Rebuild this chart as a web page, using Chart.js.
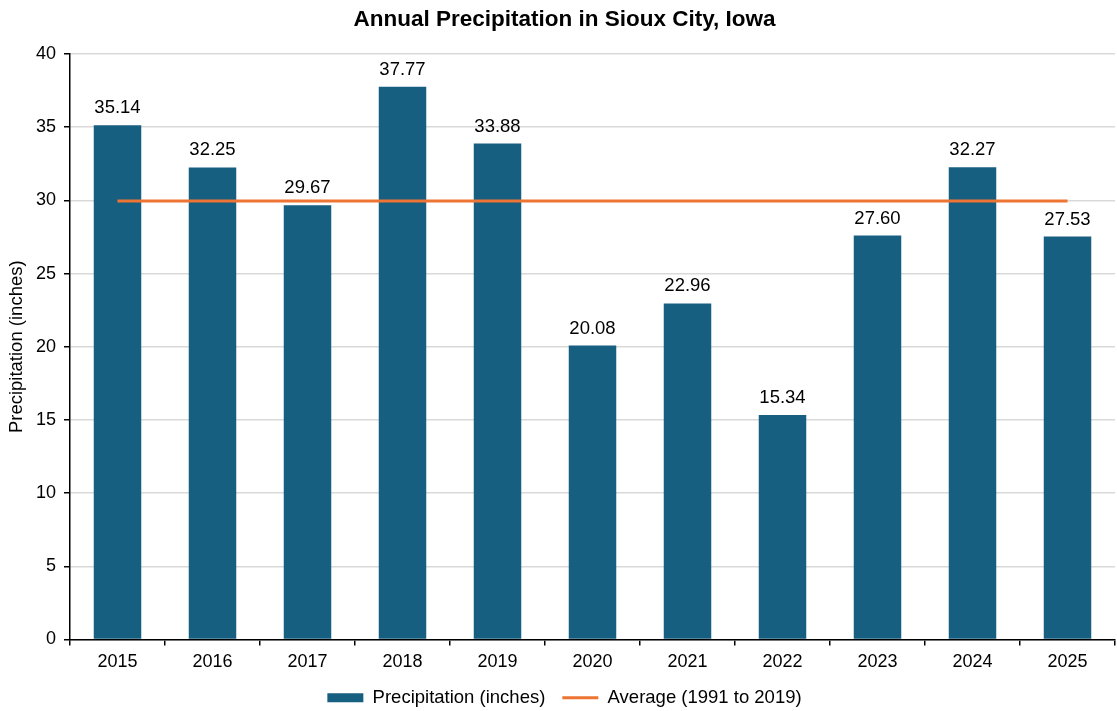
<!DOCTYPE html>
<html>
<head>
<meta charset="utf-8">
<title>Annual Precipitation in Sioux City, Iowa</title>
<script src="https://cdn.jsdelivr.net/npm/chart.js@4.4.1/dist/chart.umd.min.js"></script>
<style>
  html, body { margin: 0; padding: 0; background: #fff; }
  #wrap { width: 1117px; height: 711px; position: relative; }
</style>
</head>
<body>
<div id="wrap"><canvas id="result"></canvas></div>
<script>
const years = ['2015', '2016', '2017', '2018', '2019', '2020', '2021', '2022', '2023', '2024', '2025']
const precip = [35.14, 32.25, 29.67, 37.77, 33.88, 20.08, 22.96, 15.34, 27.60, 32.27, 27.53]
const normal = 29.95
const average = years.map(() => normal)
const yTicks = [0, 5, 10, 15, 20, 25, 30, 35, 40]

const FONT = 'Liberation Sans, Arial, sans-serif'
const BLUE = '#175f80'
const ORANGE = '#ed7432'

// value labels above each bar
const barLabels = {
  id: 'barLabels',
  afterDatasetsDraw(chart) {
    const meta = chart.getDatasetMeta(0)
    const ctx = chart.ctx
    ctx.save()
    ctx.font = '18.5px ' + FONT
    ctx.fillStyle = '#000'
    ctx.textAlign = 'center'
    ctx.textBaseline = 'alphabetic'
    meta.data.forEach((bar, i) => {
      ctx.fillText(precip[i].toFixed(2), bar.x, bar.y - 12)
    })
    ctx.restore()
  }
}

Chart.defaults.font.family = FONT
Chart.defaults.color = '#000'

const ctx = document.getElementById('result').getContext('2d')
const chart = new Chart(ctx, {
  type: 'bar',
  data: {
    labels: years,
    datasets: [{
      label: 'Precipitation (inches)',
      data: precip,
      backgroundColor: BLUE,
      borderWidth: 0,
      categoryPercentage: 1,
      barPercentage: 0.5,
      pointStyle: 'rect',
      order: 1
    }, {
      type: 'line',
      label: 'Average (1991 to 2019)',
      data: average,
      borderColor: ORANGE,
      backgroundColor: ORANGE,
      borderWidth: 3,
      pointRadius: 0,
      pointStyle: 'line',
      order: 0
    }]
  },
  options: {
    responsive: true,
    maintainAspectRatio: false,
    animation: false,
    layout: { padding: { left: 14, right: 2, top: 0, bottom: -6 } },
    plugins: {
      title: {
        display: true,
        text: 'Annual Precipitation in Sioux City, Iowa',
        font: { size: 22.5, weight: 'bold' },
        color: '#000',
        padding: { top: 6, bottom: 21 }
      },
      legend: {
        position: 'bottom',
        labels: {
          usePointStyle: true,
          pointStyleWidth: 36,
          boxHeight: 9,
          padding: 17,
          font: { size: 18.5 },
          sort: (a, b) => a.datasetIndex - b.datasetIndex
        }
      },
      tooltip: { enabled: false }
    },
    scales: {
      x: {
        grid: {
          offset: true,
          drawOnChartArea: false,
          tickLength: 6,
          tickColor: '#000',
          lineWidth: 1.5
        },
        border: { color: '#000', width: 1.5 },
        ticks: { font: { size: 18 }, padding: 6 },
        afterFit(scale) { scale.height = 32 }
      },
      y: {
        min: 0,
        max: 40,
        afterBuildTicks(scale) { scale.ticks = yTicks.map(v => ({ value: v })) },
        grid: {
          color: '#d9d9d9',
          lineWidth: 1.5,
          tickLength: 6,
          tickColor: '#000'
        },
        border: { color: '#000', width: 1.5 },
        ticks: { font: { size: 18 }, padding: 8 },
        title: {
          display: true,
          text: 'Precipitation (inches)',
          font: { size: 18.5 },
          padding: { top: -8, bottom: 0 }
        },
        afterFit(scale) { scale.width = 56 }
      }
    }
  },
  plugins: [barLabels]
})
</script>
</body>
</html>
